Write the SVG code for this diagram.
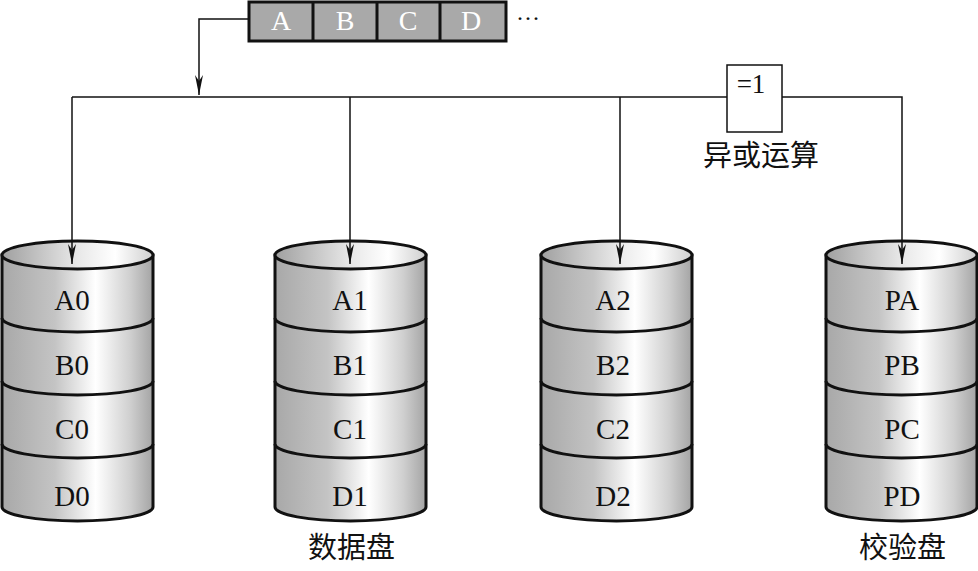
<svg xmlns="http://www.w3.org/2000/svg" xmlns:xlink="http://www.w3.org/1999/xlink" width="978" height="571" viewBox="0 0 978 571">
<defs>
<style>
.t{font-family:"Liberation Serif","Times New Roman",serif;font-size:29px;fill:#111;text-anchor:middle}
.w{font-family:"Liberation Serif","Times New Roman",serif;font-size:28px;fill:#fff;text-anchor:middle}
.c{font-family:"Noto Sans CJK SC","Noto Serif CJK SC",serif;font-size:29px;fill:#111}
.ln{fill:none;stroke:#111;stroke-width:1.5}
.cy{stroke:#111;stroke-width:3}
</style>
<linearGradient id="g" x1="0" y1="0" x2="1" y2="0">
<stop offset="0" stop-color="#a8a8a8"/>
<stop offset="0.35" stop-color="#c4c4c4"/>
<stop offset="0.62" stop-color="#ffffff"/>
<stop offset="0.85" stop-color="#cfcfcf"/>
<stop offset="1" stop-color="#a4a4a4"/>
</linearGradient>
<linearGradient id="gt" x1="0" y1="0" x2="1" y2="0">
<stop offset="0" stop-color="#a0a0a0"/>
<stop offset="0.5" stop-color="#e8e8e8"/>
<stop offset="0.75" stop-color="#ffffff"/>
<stop offset="1" stop-color="#cfcfcf"/>
</linearGradient>
<marker id="ar" viewBox="0 0 20 8" refX="20" refY="4" markerWidth="20" markerHeight="8" markerUnits="userSpaceOnUse" orient="auto">
<path d="M0,0 L20,4 L0,8 L6,4 Z" fill="#111"/>
</marker>
<g id="cyl">
<path class="cy" fill="url(#g)" d="M0,255 L0,507 A75.5,14 0 0 0 151,507 L151,255 Z"/>
<ellipse class="cy" fill="url(#gt)" cx="75.5" cy="255" rx="75.5" ry="14"/>
<path class="cy" fill="none" d="M0,318 A75.5,14 0 0 0 151,318 M0,381 A75.5,14 0 0 0 151,381 M0,444 A75.5,14 0 0 0 151,444"/>
</g>
</defs>
<rect width="978" height="571" fill="#fff"/>

<g id="input">
<rect x="249" y="2" width="257" height="39" fill="#a9a9a9" stroke="#111" stroke-width="3"/>
<path d="M313,2 V41 M377,2 V41 M440,2 V41" stroke="#111" stroke-width="3"/>
<text class="w" x="281" y="30">A</text>
<text class="w" x="345" y="30">B</text>
<text class="w" x="408" y="30">C</text>
<text class="w" x="471" y="30">D</text>
<text class="t" x="528" y="26" style="font-size:24px">···</text>
</g>

<g id="xor">
<rect x="727" y="65" width="55" height="67" fill="#fff" stroke="#111" stroke-width="1.5"/>
<text class="t" x="751" y="93" style="font-size:27px">=1</text>
<text class="c" x="703" y="166">异或运算</text>
</g>

<g id="disk0">
<use xlink:href="#cyl" href="#cyl" x="2" y="0"/>
<text class="t" x="72" y="310">A0</text>
<text class="t" x="72" y="375">B0</text>
<text class="t" x="72" y="439">C0</text>
<text class="t" x="72" y="506">D0</text>
</g>
<g id="disk1">
<use xlink:href="#cyl" href="#cyl" x="275" y="0"/>
<text class="t" x="350" y="310">A1</text>
<text class="t" x="350" y="375">B1</text>
<text class="t" x="350" y="439">C1</text>
<text class="t" x="350" y="506">D1</text>
</g>
<g id="disk2">
<use xlink:href="#cyl" href="#cyl" x="541" y="0"/>
<text class="t" x="613" y="310">A2</text>
<text class="t" x="613" y="375">B2</text>
<text class="t" x="613" y="439">C2</text>
<text class="t" x="613" y="506">D2</text>
</g>
<g id="disk3">
<use xlink:href="#cyl" href="#cyl" x="826" y="0"/>
<text class="t" x="902" y="310">PA</text>
<text class="t" x="902" y="375">PB</text>
<text class="t" x="902" y="439">PC</text>
<text class="t" x="902" y="506">PD</text>
</g>

<g id="connectors">
<path class="ln" d="M249,19 H199 V95" marker-end="url(#ar)"/>
<path class="ln" d="M72,97 H727"/>
<path class="ln" d="M72,97 V264" marker-end="url(#ar)"/>
<path class="ln" d="M350,97 V264" marker-end="url(#ar)"/>
<path class="ln" d="M620,97 V264" marker-end="url(#ar)"/>
<path class="ln" d="M782,97 H902 V264" marker-end="url(#ar)"/>
</g>

<g id="labels">
<text class="c" x="308" y="558">数据盘</text>
<text class="c" x="859" y="558">校验盘</text>
</g>
</svg>
